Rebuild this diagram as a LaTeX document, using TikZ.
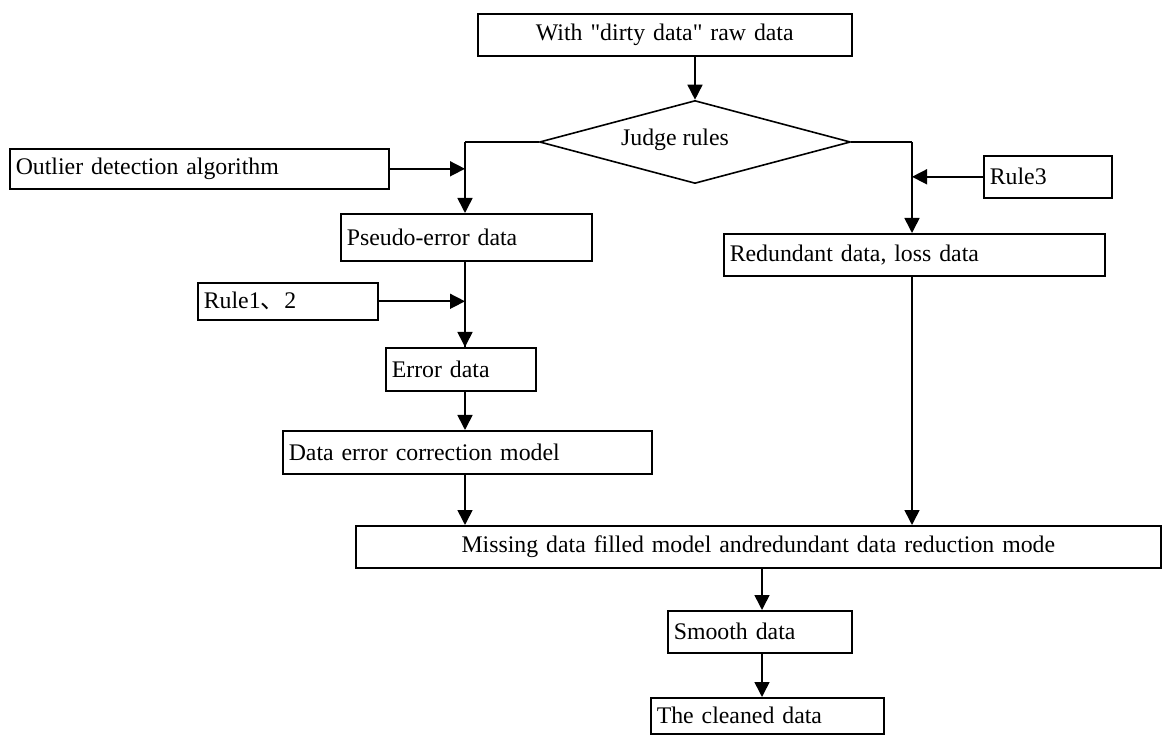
\documentclass[tikz,border=0pt]{standalone}
\usepackage{fontspec}
\setmainfont{Liberation Serif}[Ligatures=TeXOff]
\newfontfamily\cjk{Noto Sans CJK SC}
\usetikzlibrary{arrows.meta,shapes.geometric,calc}
\tikzset{
  box/.style={draw, line width=1.6pt, anchor=north west, align=left, inner xsep=6pt, inner ysep=0pt},
  cbox/.style={draw, line width=1.6pt, anchor=north west, align=center, inner xsep=6pt, inner ysep=0pt},
  conn/.style={line width=1.6pt},
  arr/.style={line width=1.6pt, -{Triangle[length=15pt,width=15pt]}},
}
\newcommand{\bx}[7]{% style, name, x1, y1, x2, y2, text
  \pgfmathsetlengthmacro{\bw}{#5-#3-12}%
  \pgfmathsetlengthmacro{\bh}{#6-#4}%
  \node[#1, text width=\bw, minimum height=\bh] (#2) at (#3,#4) {#7};}
\begin{document}
\begin{tikzpicture}[x=1pt,y=-1pt,font=\fontsize{23.8}{28}\selectfont]
\useasboundingbox (0,0) rectangle (1163,735);
\bx{cbox}{top}{477}{13}{851}{55}{With "dirty data" raw data}
\node[draw, shape=diamond, line width=1.6pt, minimum width=311pt, minimum height=83pt, inner sep=0pt] (dia) at (695,142) {};
\node[inner sep=0pt] (diatext) at (675,140) {Judge rules};
\coordinate (jl) at (465,142);
\coordinate (jr) at (912,142);
\bx{box}{outl}{9}{148}{388}{188}{Outlier detection algorithm}
\bx{box}{pseudo}{340}{213}{591}{260}{Pseudo-error data}
\bx{box}{rule12}{197}{282}{377}{319}{Rule1{\cjk 、}2}
\bx{box}{err}{385}{347}{535}{390}{Error data}
\bx{box}{derr}{282}{430}{651}{473}{Data error correction model}
\bx{box}{rule3}{983}{155}{1111}{197}{Rule3}
\bx{box}{red}{723}{233}{1104}{275}{Redundant data, loss data}
\bx{cbox}{miss}{355}{525}{1160}{567}{Missing data filled model andredundant data reduction mode}
\bx{box}{smooth}{667}{610}{851}{652}{Smooth data}
\bx{box}{clean}{650}{697}{883}{733}{The cleaned data}
% connectors
\draw[arr] (dia.north |- top.south) -- (dia.north);
\draw[conn] (dia.west) -- (jl);
\draw[arr] (jl) -- (jl |- pseudo.north);
\draw[conn] (dia.east) -- (jr);
\draw[arr] (jr) -- (jr |- red.north);
\draw[arr] (outl.east) -- (outl.east -| jl);
\draw[conn] (jl |- pseudo.south) -- (jl |- err.north);
\draw[arr] (rule12.east) -- (rule12.east -| jl);
\draw[arr] (jl |- rule12.east) -- (jl |- err.north);
\draw[arr] (jl |- err.south) -- (jl |- derr.north);
\draw[arr] (jl |- derr.south) -- (jl |- miss.north);
\draw[arr] (rule3.west) -- (rule3.west -| jr);
\draw[arr] (jr |- red.south) -- (jr |- miss.north);
\coordinate (jb) at (762,567);
\draw[arr] (jb) -- (jb |- smooth.north);
\draw[arr] (jb |- smooth.south) -- (jb |- clean.north);
\end{tikzpicture}
\end{document}
